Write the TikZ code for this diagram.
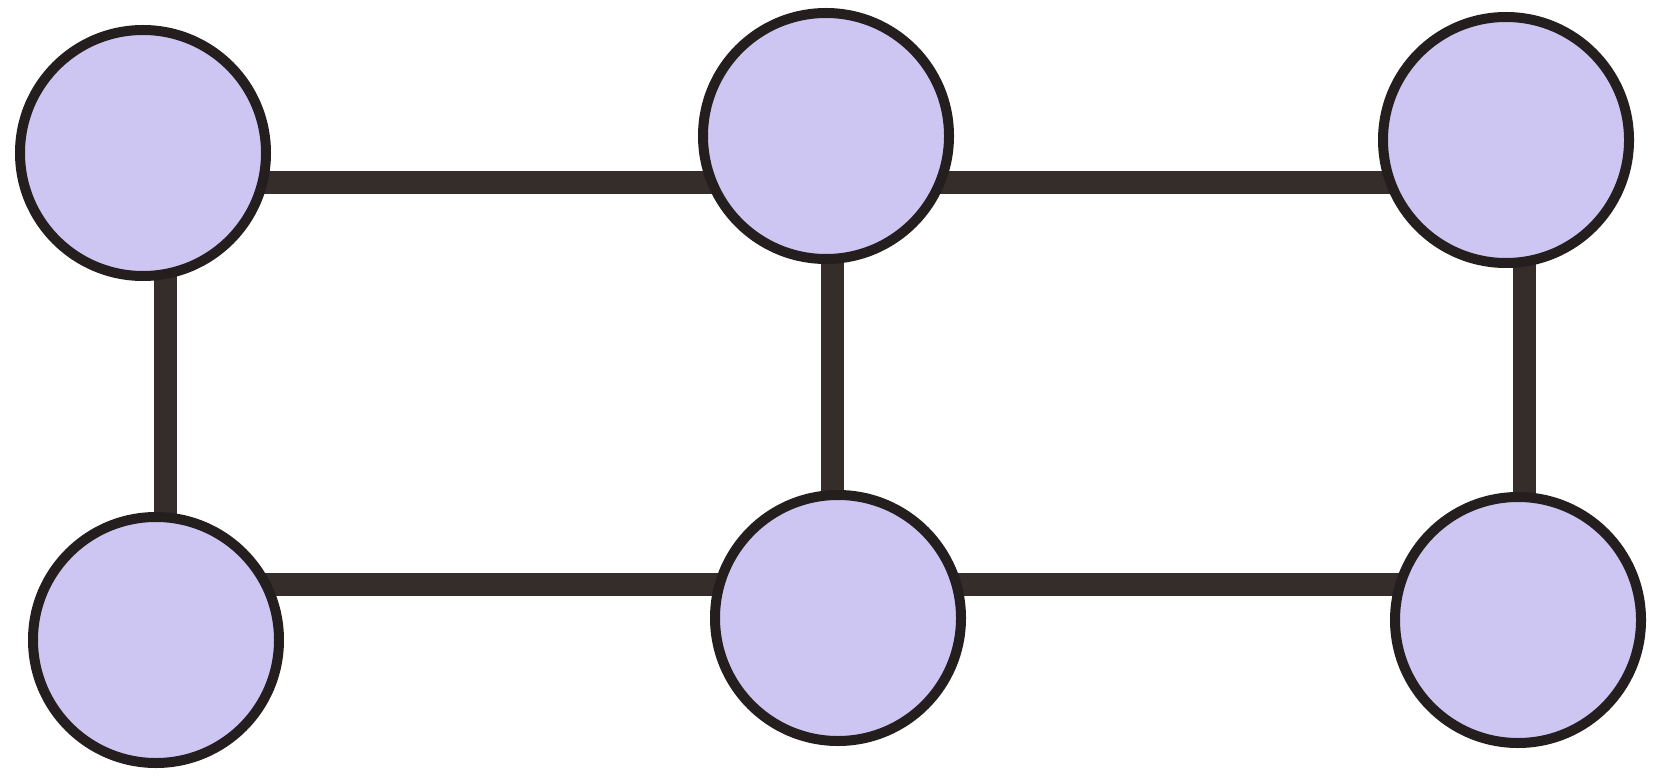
\documentclass[tikz,border=0pt]{standalone}
\usetikzlibrary{backgrounds}
\definecolor{nodefill}{RGB}{206,198,242}
\definecolor{nodeline}{RGB}{36,30,30}
\definecolor{linkcol}{RGB}{52,45,42}
\begin{document}
\begin{tikzpicture}[x=0.5pt,y=-0.5pt,
  vertex/.style={circle,draw=nodeline,fill=nodefill,line width=5pt,
                 minimum size=123pt,inner sep=0pt},
  link/.style={draw=linkcol,line width=11.5pt}]
\useasboundingbox (0,0) rectangle (1673,780);

% the six vertices of the 2x3 grid
\node[vertex] (tl) at (143,153) {};
\node[vertex] (tm) at (826,136) {};
\node[vertex] (tr) at (1506,140) {};
\node[vertex] (bl) at (156,640) {};
\node[vertex] (bm) at (838,618) {};
\node[vertex] (br) at (1518,620) {};

% levels of the rails
\coordinate (rowA) at (0,183);
\coordinate (rowB) at (0,584);
\coordinate (colL) at (165,0);
\coordinate (colM) at (832,0);
\coordinate (colR) at (1524,0);

\begin{scope}[on background layer]
  \fill[white] (0,0) rectangle (1673,780);
  % horizontal links
  \draw[link] (tl |- rowA) -- (tm |- rowA);
  \draw[link] (tm |- rowA) -- (tr |- rowA);
  \draw[link] (bl |- rowB) -- (bm |- rowB);
  \draw[link] (bm |- rowB) -- (br |- rowB);
  % vertical links
  \draw[link] (colL |- tl) -- (colL |- bl);
  \draw[link] (colM |- tm) -- (colM |- bm);
  \draw[link] (colR |- tr) -- (colR |- br);
\end{scope}
\end{tikzpicture}
\end{document}
